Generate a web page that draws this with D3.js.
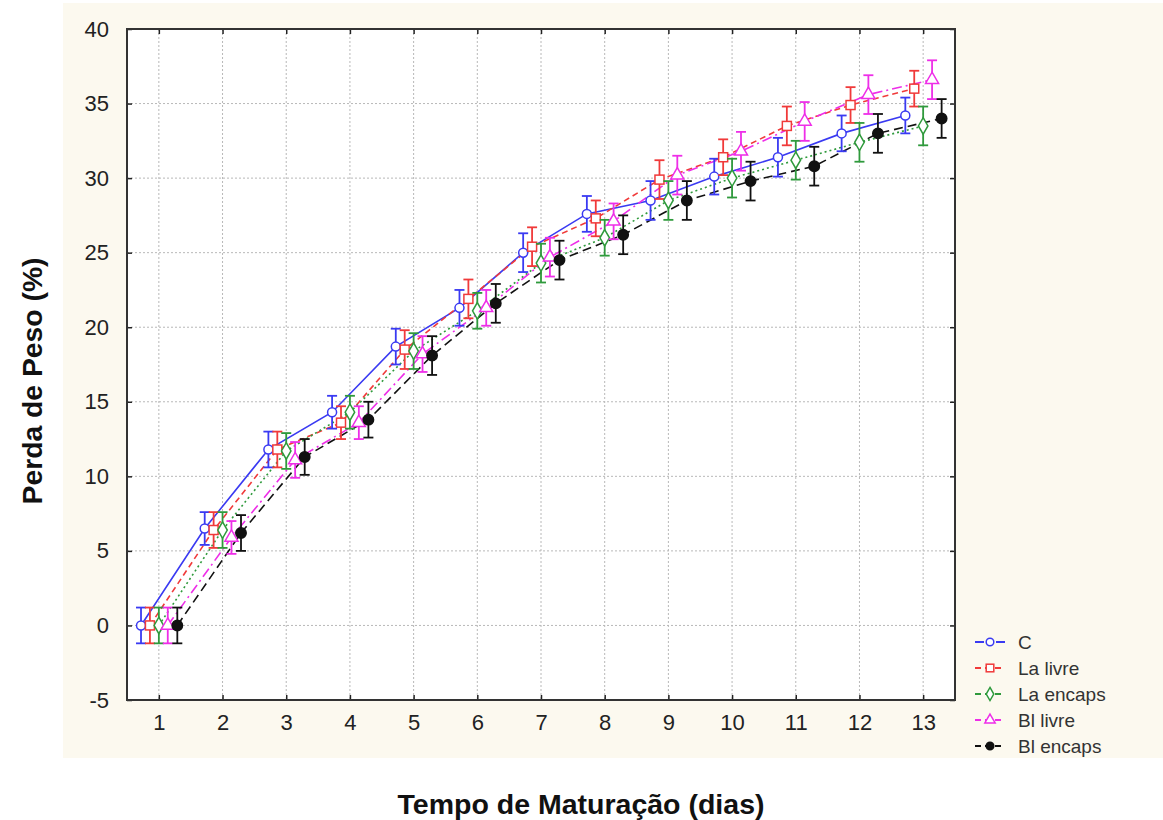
<!DOCTYPE html>
<html>
<head>
    <title>Perda de Peso</title>
    <script src="https://d3js.org/d3.v7.min.js"></script>
    <style>
        body {
            margin: 0;
            background: #fff;
            font-family: Arial, "Liberation Sans", sans-serif;
        }
        .grid line {
            stroke: #b8b8b8;
            stroke-width: 1;
            stroke-dasharray: 2,2;
        }
        .tick-label {
            font-size: 22px;
            fill: #222;
        }
        .axis-title {
            font-size: 27px;
            font-weight: bold;
            fill: #111;
        }
        .legend-label {
            font-size: 19px;
            fill: #333;
        }
    </style>
</head>
<body>
    <div id="chart"></div>

    <script>
        // Days and tick values
        const days = [1, 2, 3, 4, 5, 6, 7, 8, 9, 10, 11, 12, 13];
        const yTicks = [-5, 0, 5, 10, 15, 20, 25, 30, 35, 40];

        // Mean weight loss (%) per treatment
        const seriesNames = ["C", "La livre", "La encaps", "Bl livre", "Bl encaps"];
        const cValues = [0, 6.5, 11.8, 14.3, 18.7, 21.3, 25.0, 27.6, 28.5, 30.1, 31.4, 33.0, 34.2];
        const laLivreValues = [0, 6.4, 11.8, 13.6, 18.5, 21.9, 25.4, 27.3, 29.9, 31.4, 33.5, 34.9, 36.0];
        const laEncapsValues = [0, 6.4, 11.7, 14.3, 18.4, 21.1, 24.3, 26.0, 28.5, 30.0, 31.2, 32.4, 33.5];
        const blLivreValues = [0, 5.9, 11.1, 13.6, 18.2, 21.3, 24.7, 27.1, 30.2, 31.8, 33.8, 35.6, 36.6];
        const blEncapsValues = [0, 6.2, 11.3, 13.8, 18.1, 21.6, 24.5, 26.2, 28.5, 29.8, 30.8, 33.0, 34.0];

        // Error bar half-widths
        const cErr = [1.2, 1.1, 1.2, 1.1, 1.2, 1.2, 1.3, 1.2, 1.3, 1.2, 1.3, 1.2, 1.2];
        const laLivreErr = [1.2, 1.2, 1.2, 1.1, 1.3, 1.3, 1.3, 1.2, 1.3, 1.2, 1.3, 1.2, 1.2];
        const laEncapsErr = [1.2, 1.2, 1.2, 1.1, 1.2, 1.2, 1.3, 1.2, 1.3, 1.3, 1.3, 1.3, 1.3];
        const blLivreErr = [1.2, 1.1, 1.2, 1.1, 1.2, 1.2, 1.3, 1.2, 1.3, 1.3, 1.3, 1.3, 1.3];
        const blEncapsErr = [1.2, 1.2, 1.2, 1.2, 1.3, 1.3, 1.3, 1.3, 1.3, 1.3, 1.3, 1.3, 1.3];

        const series = [
            {name: seriesNames[0], values: cValues, err: cErr, color: "#3a3af2", dash: null, marker: "circle", fill: "#fff", r: 4.5, dodge: -0.28},
            {name: seriesNames[1], values: laLivreValues, err: laLivreErr, color: "#f03a3a", dash: "6,4", marker: "square", fill: "#fff", r: 4.5, dodge: -0.14},
            {name: seriesNames[2], values: laEncapsValues, err: laEncapsErr, color: "#2f9a3c", dash: "2,3", marker: "diamond", fill: "#fff", r: 4.8, dodge: 0},
            {name: seriesNames[3], values: blLivreValues, err: blLivreErr, color: "#ee2ee8", dash: "10,4,2,4", marker: "triangle", fill: "#fff", r: 4.8, dodge: 0.14},
            {name: seriesNames[4], values: blEncapsValues, err: blEncapsErr, color: "#111", dash: "9,5", marker: "circle", fill: "#111", r: 5.2, dodge: 0.29}
        ];

        const W = 1163, H = 820;
        const plot = {left: 127, top: 29, right: 955, bottom: 700};

        const svg = d3.select("#chart")
            .append("svg")
            .attr("width", W)
            .attr("height", H);

        // cream background panel
        svg.append("rect")
            .attr("x", 63).attr("y", 3)
            .attr("width", W - 63).attr("height", 755)
            .attr("fill", "#fcf9ef");

        const x = d3.scaleLinear().domain([0.5, 13.5]).range([plot.left, plot.right]);
        const y = d3.scaleLinear().domain([-5, 40]).range([plot.bottom, plot.top]);

        svg.append("rect")
            .attr("x", plot.left).attr("y", plot.top)
            .attr("width", plot.right - plot.left)
            .attr("height", plot.bottom - plot.top)
            .attr("fill", "#fff");

        // grid
        const grid = svg.append("g").attr("class", "grid");
        grid.selectAll(".gx").data(days).enter().append("line")
            .attr("x1", d => x(d)).attr("x2", d => x(d))
            .attr("y1", plot.top).attr("y2", plot.bottom);
        grid.selectAll(".gy").data(yTicks).enter().append("line")
            .attr("x1", plot.left).attr("x2", plot.right)
            .attr("y1", d => y(d)).attr("y2", d => y(d));

        // axes with inward ticks on all sides
        const tickLen = 5;
        svg.append("g")
            .attr("transform", `translate(0,${plot.bottom})`)
            .call(d3.axisBottom(x).tickValues(days).tickSizeInner(-tickLen).tickSizeOuter(0).tickPadding(14))
            .call(g => g.select(".domain").remove());
        svg.append("g")
            .attr("transform", `translate(0,${plot.top})`)
            .call(d3.axisTop(x).tickValues(days).tickSizeInner(-tickLen).tickSizeOuter(0).tickFormat(""))
            .call(g => g.select(".domain").remove());
        svg.append("g")
            .attr("transform", `translate(${plot.left},0)`)
            .call(d3.axisLeft(y).tickValues(yTicks).tickSizeInner(-tickLen).tickSizeOuter(0).tickPadding(18)
                .tickFormat(d => String(d)))
            .call(g => g.select(".domain").remove());
        svg.append("g")
            .attr("transform", `translate(${plot.right},0)`)
            .call(d3.axisRight(y).tickValues(yTicks).tickSizeInner(-tickLen).tickSizeOuter(0).tickFormat(""))
            .call(g => g.select(".domain").remove());

        svg.selectAll(".tick line").attr("stroke", "#222").attr("stroke-width", 1.5);
        svg.selectAll(".tick text")
            .attr("class", "tick-label")
            .attr("font-family", "Arial, 'Liberation Sans', sans-serif");

        // series lines
        const line = d3.line()
            .x(d => d.x)
            .y(d => d.y);

        series.forEach(s => {
            const pts = days.map((d, i) => ({x: x(d + s.dodge), y: y(s.values[i])}));
            svg.append("path")
                .datum(pts)
                .attr("d", line)
                .attr("fill", "none")
                .attr("stroke", s.color)
                .attr("stroke-width", 1.6)
                .attr("stroke-dasharray", s.dash);
        });

        // error bars and markers
        function drawMarker(g, type, cx, cy, color, fill, r) {
            if (type === "circle") {
                g.append("circle").attr("cx", cx).attr("cy", cy).attr("r", r)
                    .attr("fill", fill).attr("stroke", color).attr("stroke-width", 1.5);
            } else if (type === "square") {
                g.append("rect").attr("x", cx - r).attr("y", cy - r)
                    .attr("width", 2 * r).attr("height", 2 * r)
                    .attr("fill", fill).attr("stroke", color).attr("stroke-width", 1.5);
            } else {
                const sym = type === "diamond" ? d3.symbolDiamond : d3.symbolTriangle;
                const size = type === "diamond" ? r * r * 3.4 : r * r * 3.2;
                g.append("path")
                    .attr("d", d3.symbol().type(sym).size(size)())
                    .attr("transform", `translate(${cx},${cy})`)
                    .attr("fill", fill).attr("stroke", color).attr("stroke-width", 1.5);
            }
        }

        series.forEach(s => {
            const g = svg.append("g");
            days.forEach((d, i) => {
                const cx = x(d + s.dodge);
                const lo = y(s.values[i] - s.err[i]);
                const hi = y(s.values[i] + s.err[i]);
                g.append("line").attr("x1", cx).attr("x2", cx).attr("y1", lo).attr("y2", hi)
                    .attr("stroke", s.color).attr("stroke-width", 1.8);
                [lo, hi].forEach(yy => {
                    g.append("line").attr("x1", cx - 5).attr("x2", cx + 5).attr("y1", yy).attr("y2", yy)
                        .attr("stroke", s.color).attr("stroke-width", 1.8);
                });
                drawMarker(g, s.marker, cx, y(s.values[i]), s.color, s.fill, s.r);
            });
        });

        // frame
        svg.append("rect")
            .attr("x", plot.left).attr("y", plot.top)
            .attr("width", plot.right - plot.left)
            .attr("height", plot.bottom - plot.top)
            .attr("fill", "none")
            .attr("stroke", "#333")
            .attr("stroke-width", 2);

        // axis titles
        svg.append("text")
            .attr("class", "axis-title")
            .attr("transform", "translate(42,381) rotate(-90)")
            .attr("text-anchor", "middle")
            .attr("textLength", 247)
            .attr("lengthAdjust", "spacingAndGlyphs")
            .text("Perda de Peso (%)");
        svg.append("text")
            .attr("class", "axis-title")
            .attr("x", 581).attr("y", 814)
            .attr("text-anchor", "middle")
            .attr("textLength", 367)
            .attr("lengthAdjust", "spacingAndGlyphs")
            .text("Tempo de Maturação (dias)");

        // legend
        const legend = svg.append("g").attr("transform", "translate(975,642)");
        series.forEach((s, i) => {
            const row = legend.append("g").attr("transform", `translate(0,${i * 26})`);
            row.append("line").attr("x1", 0).attr("x2", 30).attr("y1", 0).attr("y2", 0)
                .attr("stroke", s.color).attr("stroke-width", 1.8)
                .attr("stroke-dasharray", s.dash ? "6,4" : "9,12");
            drawMarker(row, s.marker, 15, 0, s.color, s.fill, 3.8);
            row.append("text").attr("class", "legend-label")
                .attr("x", 43).attr("y", 7)
                .text(s.name);
        });
    </script>
</body>
</html>
